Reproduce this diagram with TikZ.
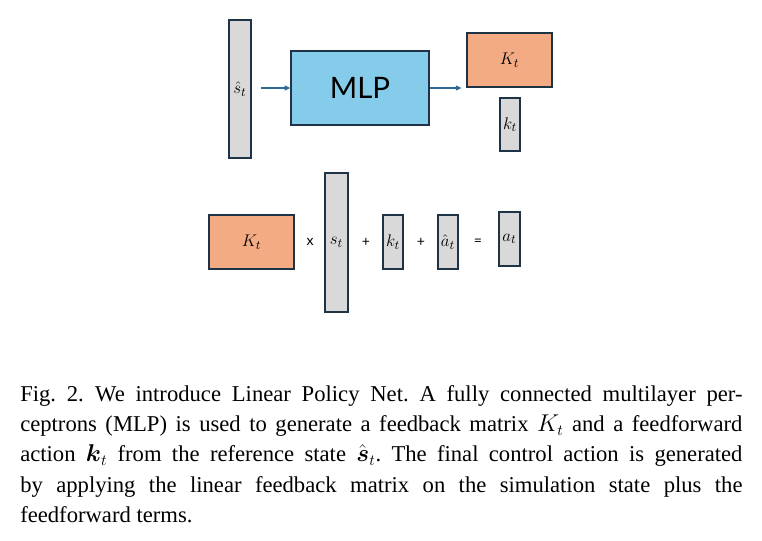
\documentclass[tikz,border=0pt]{standalone}
\usepackage{amsmath}
\usepackage{fontspec}
\setmainfont{Liberation Serif}
\newfontfamily\diagfont{Lato}
\usetikzlibrary{arrows.meta}
\definecolor{boxgray}{HTML}{D9D9D9}
\definecolor{mlpblue}{HTML}{85CBEA}
\definecolor{gainorange}{HTML}{F3AB84}
\definecolor{edgenavy}{HTML}{1E3446}
\definecolor{arrowblue}{HTML}{2D6A93}
\begin{document}
\begin{tikzpicture}[x=0.025cm, y=-0.025cm,
  vecbox/.style={draw=edgenavy, fill=boxgray, line width=0.9pt, inner sep=0pt,
    font=\fontsize{12.5}{14}\selectfont},
  gainbox/.style={vecbox, fill=gainorange, minimum width=2.125cm, minimum height=1.35cm},
  opsign/.style={inner sep=0pt, font=\diagfont\fontsize{10}{11}\selectfont},
  flow/.style={draw=arrowblue, line width=0.8pt, -{Triangle[length=4pt,width=3.6pt]}}]
\useasboundingbox (0,0) rectangle (762,540);
% network
\node[vecbox, minimum width=0.55cm, minimum height=3.45cm] (shat) at (240,89) {$\hat{s}_t$};
\node[vecbox, fill=mlpblue, minimum width=3.45cm, minimum height=1.85cm,
  font=\diagfont\fontsize{21}{24}\selectfont] (mlp) at (360,88) {MLP};
\node[gainbox] (Ktop) at (509.5,60) {$K_t$};
\node[vecbox, minimum width=0.5cm, minimum height=1.325cm] (ktop) at (510,124.5) {$k_t$};
\draw[flow, shorten <=7pt] (shat.east |- mlp.west) -- (mlp.west);
\draw[flow, shorten >=3.5pt] (mlp.east) -- (mlp.east -| Ktop.west);
% control law
\node[gainbox] (Kbot) at (251.5,242) {$K_t$};
\node[opsign] (times) at (310,242) {x};
\node[vecbox, minimum width=0.575cm, minimum height=3.475cm] (sbot) at (336.5,242.5) {$s_t$};
\node[opsign] (plusa) at (366,242) {+};
\node[vecbox, minimum width=0.5cm, minimum height=1.35cm] (kbot) at (393,242) {$k_t$};
\node[opsign] (plusb) at (421,242) {+};
\node[vecbox, minimum width=0.5cm, minimum height=1.35cm] (ahat) at (448,242) {$\hat{a}_t$};
\node[opsign] (equals) at (478,242) {=};
\node[vecbox, minimum width=0.525cm, minimum height=1.35cm] (abot) at (509.5,239) {$a_t$};
% caption
\node[anchor=north west, inner sep=0pt, text width=18.05cm, align=justify,
  font=\fontsize{16.1}{21.6}\selectfont] (caption) at (20,385)
  {\frenchspacing\hyphenpenalty=10000 Fig.~2.\enskip We introduce Linear Policy Net. A fully connected multilayer per-\linebreak
  ceptrons (MLP) is used to generate a feedback matrix $K_t$ and a feedforward\linebreak
  action $\boldsymbol{k}_t$ from the reference state $\smash{\hat{\boldsymbol{s}}}_t$. The final control action is generated\linebreak
  by applying the linear feedback matrix on the simulation state plus the\linebreak
  feedforward terms.};
\end{tikzpicture}
\end{document}
